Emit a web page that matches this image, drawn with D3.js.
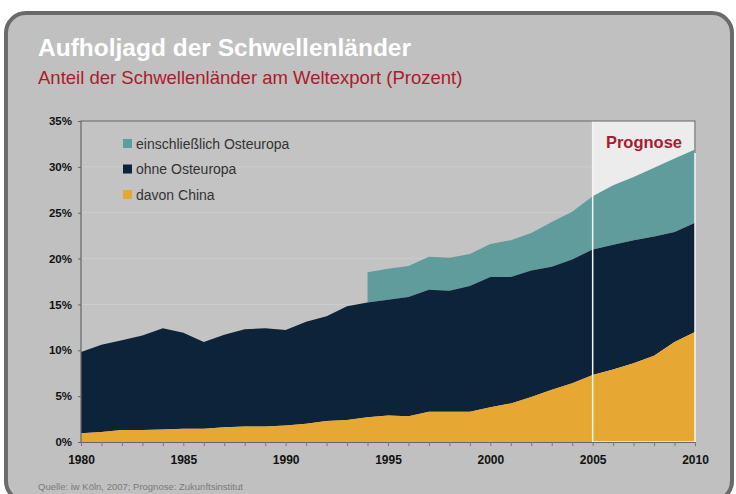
<!DOCTYPE html>
<html>
<head>
<meta charset="utf-8">
<script src="https://cdn.jsdelivr.net/npm/d3@7"></script>
<style>
  body { margin: 0; background: #fff; }
  svg { display: block; font-family: "Liberation Sans", Arial, sans-serif; }
</style>
</head>
<body>
<svg id="svg" width="736" height="494"></svg>
<script>
// data
let years = d3.range(1980, 2011);
let china = [0.95, 1.1, 1.3, 1.3, 1.35, 1.45, 1.45, 1.6, 1.7, 1.7, 1.8, 2.0, 2.3, 2.4, 2.7, 2.9,
  2.8, 3.3, 3.3, 3.3, 3.8, 4.2, 4.9, 5.7, 6.4, 7.3, 7.9, 8.6, 9.4, 10.9, 12.0];
let ohneOst = [9.8, 10.6, 11.1, 11.6, 12.4, 11.9, 10.9, 11.7, 12.3, 12.4, 12.2, 13.1, 13.7, 14.8, 15.2, 15.5,
  15.8, 16.6, 16.5, 17.0, 18.0, 18.0, 18.7, 19.1, 19.9, 21.0, 21.5, 22.0, 22.4, 22.9, 23.9];
// einschließlich Osteuropa, only from 1994
let mitOstYears = d3.range(1994, 2011);
let mitOst = [18.5, 18.9, 19.2, 20.2, 20.1, 20.5, 21.6, 22.0, 22.8, 24.0, 25.1, 26.8, 28.0, 28.9, 29.9, 30.9, 31.9];
let yTicks = [0, 5, 10, 15, 20, 25, 30, 35];
let xTicks = [1980, 1985, 1990, 1995, 2000, 2005, 2010];
let legendLabels = ["einschließlich Osteuropa", "ohne Osteuropa", "davon China"];
let prognoseStart = 2005;

let colors = { teal: "#609c9c", navy: "#0c2339", yellow: "#e6a832" };

let svg = d3.select("#svg");

// outer frame
svg.append("rect")
  .attr("x", 6).attr("y", 13)
  .attr("width", 726).attr("height", 488)
  .attr("rx", 20)
  .style("fill", "#c0c0c0")
  .style("stroke", "#6a6a6a")
  .style("stroke-width", 4);

svg.append("text")
  .attr("x", 38).attr("y", 56)
  .style("font-size", "24.5px").style("font-weight", "bold")
  .style("fill", "#fff")
  .text("Aufholjagd der Schwellenländer");

svg.append("text")
  .attr("x", 38).attr("y", 84)
  .style("font-size", "18.5px")
  .style("fill", "#a81c2c")
  .text("Anteil der Schwellenländer am Weltexport (Prozent)");

let x = d3.scaleLinear().domain([1980, 2010]).range([81, 695]);
let y = d3.scaleLinear().domain([0, 35]).range([442, 121]);

// plot background
svg.append("rect")
  .attr("x", x(1980)).attr("y", y(35))
  .attr("width", x(2010) - x(1980)).attr("height", y(0) - y(35))
  .style("fill", "#c3c3c3");

// gridlines
svg.selectAll(".grid")
  .data(yTicks.slice(1, -1))
  .enter().append("line")
  .attr("x1", x(1980)).attr("x2", x(2010))
  .attr("y1", (d) => y(d)).attr("y2", (d) => y(d))
  .style("stroke", "#cdcdcd")
  .style("stroke-width", 1);

// prognose background
svg.append("rect")
  .attr("x", x(prognoseStart)).attr("y", y(35))
  .attr("width", x(2010) - x(prognoseStart)).attr("height", y(0) - y(35))
  .style("fill", "#ececec");

let area = (vals, yrs, base) => d3.area()
  .x((d, i) => x(yrs[i]))
  .y0((d, i) => y(base ? base[i] : 0))
  .y1((d) => y(d));

// teal sits on top of navy from 1994
let ohneFrom94 = mitOstYears.map((yr) => ohneOst[years.indexOf(yr)]);
svg.append("path")
  .attr("d", area(mitOst, mitOstYears, ohneFrom94)(mitOst))
  .style("fill", colors.teal);

svg.append("path")
  .attr("d", area(ohneOst, years, china)(ohneOst))
  .style("fill", colors.navy);

svg.append("path")
  .attr("d", area(china, years)(china))
  .style("fill", colors.yellow);

// prognose outline
svg.append("path")
  .attr("d", `M${x(prognoseStart)},${y(35)}V${y(0)}H${x(2010)}V${y(35)}`)
  .style("fill", "none")
  .style("stroke", "#f4f4f4")
  .style("stroke-width", 1.5);

svg.append("text")
  .attr("x", 644).attr("y", 148)
  .attr("text-anchor", "middle")
  .style("font-size", "16.5px").style("font-weight", "bold")
  .style("fill", "#a81c2c")
  .text("Prognose");

// plot frame
svg.append("path")
  .attr("d", `M${x(1980)},${y(0)}V${y(35)}H${x(2010)}V${y(31.5)}`)
  .style("fill", "none")
  .style("stroke", "#666")
  .style("stroke-width", 1.2);

// axes
let xAxis = d3.axisBottom(x)
  .tickValues(years)
  .tickSize(4)
  .tickFormat((d) => (xTicks.includes(d) ? d : ""));
let gx = svg.append("g").attr("transform", `translate(0,${y(0)})`).call(xAxis);
gx.select(".domain").style("stroke", "#666");
gx.selectAll(".tick line").style("stroke", "#777");
gx.selectAll("text")
  .attr("dy", "1.25em")
  .style("font-size", "12px").style("font-weight", "bold")
  .style("font-family", "'Liberation Sans', Arial, sans-serif")
  .style("fill", "#111");

let yAxis = d3.axisLeft(y)
  .tickValues(yTicks)
  .tickSize(3)
  .tickFormat((d) => d + "%");
let gy = svg.append("g").attr("transform", `translate(${x(1980)},0)`).call(yAxis);
gy.select(".domain").remove();
gy.selectAll(".tick line").style("stroke", "#666");
gy.selectAll("text")
  .attr("x", -9)
  .style("font-size", "11.5px").style("font-weight", "bold")
  .style("font-family", "'Liberation Sans', Arial, sans-serif")
  .style("fill", "#111");

// legend
let legendColors = [colors.teal, colors.navy, colors.yellow];
let legend = svg.selectAll(".legend")
  .data(legendLabels)
  .enter().append("g")
  .attr("transform", (d, i) => `translate(123,${139 + i * 25.5})`);
legend.append("rect")
  .attr("width", 9).attr("height", 9)
  .style("fill", (d, i) => legendColors[i]);
legend.append("text")
  .attr("x", 13).attr("y", 9.5)
  .style("font-size", "14px")
  .style("fill", "#333")
  .text((d) => d);

svg.append("text")
  .attr("x", 38).attr("y", 490)
  .style("font-size", "9.5px")
  .style("fill", "#7a7a7a")
  .text("Quelle: iw Köln, 2007; Prognose: Zukunftsinstitut");
</script>
</body>
</html>
